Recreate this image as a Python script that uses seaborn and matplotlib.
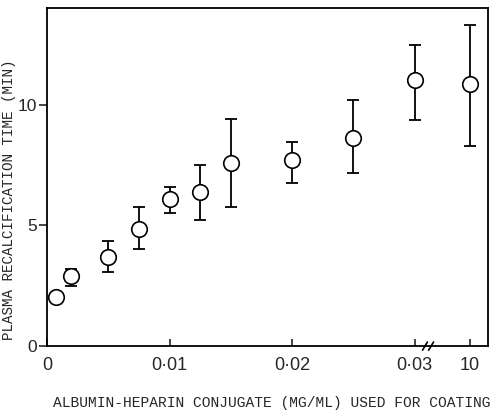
import numpy as np
import pandas as pd
import matplotlib
matplotlib.use("Agg")
import matplotlib.pyplot as plt
import matplotlib.transforms as mtransforms
import seaborn as sns

# Values
conc = [0.0007, 0.002, 0.005, 0.0075, 0.01, 0.0125, 0.015, 0.02, 0.025, 0.03, 10]
time_min = [2.02, 2.9, 3.7, 4.83, 6.07, 6.4, 7.6, 7.69, 8.6, 11.0, 10.83]
err_low = [0.0, 0.4, 0.65, 0.83, 0.57, 1.2, 1.86, 0.95, 1.45, 1.62, 2.53]
err_high = [0.0, 0.3, 0.65, 0.92, 0.5, 1.1, 1.82, 0.78, 1.57, 1.48, 2.47]
xtick_vals = [0, 0.01, 0.02, 0.03, 10]
xtick_labels = ["0", "0·01", "0·02", "0·03", "10"]
ytick_vals = [0, 5, 10]

# broken x axis: everything above 0.03 sits just right of the break
BREAK_POS = 0.0345


def to_axis(c):
    return c if c <= 0.03 else BREAK_POS


df = pd.DataFrame({"conc": conc, "time": time_min})
df["xpos"] = [to_axis(c) for c in conc]

sns.set_style("ticks")
fig = plt.figure(figsize=(4.92, 4.17), dpi=100)
ax = fig.add_axes([0.0955, 0.170, 0.8965, 0.811])

ax.errorbar(df["xpos"], df["time"], yerr=[err_low, err_high], fmt="none",
            ecolor="black", elinewidth=1.3, capsize=4, capthick=1.3, zorder=2)
sns.scatterplot(data=df, x="xpos", y="time", marker="o", s=125,
                facecolor="white", edgecolor="black", linewidth=1.2,
                zorder=3, ax=ax)

ax.set_xlim(0, 0.036)
ax.set_ylim(0, 14)
ax.set_xticks([to_axis(v) for v in xtick_vals])
ax.set_xticklabels(xtick_labels)
ax.set_yticks(ytick_vals)
ax.set_xlabel("")
ax.set_ylabel("")

for side in ["top", "right", "left", "bottom"]:
    ax.spines[side].set_visible(True)
    ax.spines[side].set_linewidth(1.3)
    ax.spines[side].set_color("black")

ax.tick_params(axis="x", direction="in", length=5, width=1.2, pad=8)
ax.tick_params(axis="y", direction="out", length=6, width=1.2, pad=1)
for lab in ax.get_xticklabels():
    lab.set_fontfamily("Liberation Sans")
    lab.set_fontsize(13)
for lab in ax.get_yticklabels():
    lab.set_fontfamily("Liberation Sans")
    lab.set_fontsize(12.5)

# axis break marks
trans = mtransforms.blended_transform_factory(ax.transData, ax.transAxes)
for dx in [-0.00025, 0.00025]:
    xb = 0.0311 + dx
    ax.plot([xb - 0.0002, xb + 0.0002], [-0.012, 0.012], color="black",
            lw=1.2, transform=trans, clip_on=False, zorder=5)

fig.text(0.552, 0.034, "ALBUMIN-HEPARIN CONJUGATE (MG/ML) USED FOR COATING",
         family="Liberation Mono", fontsize=10.5, ha="center", va="center")
fig.text(0.019, 0.52, "PLASMA RECALCIFICATION TIME (MIN)",
         family="Liberation Mono", fontsize=10.3, ha="center", va="center",
         rotation=90)

fig.savefig("out.png", dpi=100)
